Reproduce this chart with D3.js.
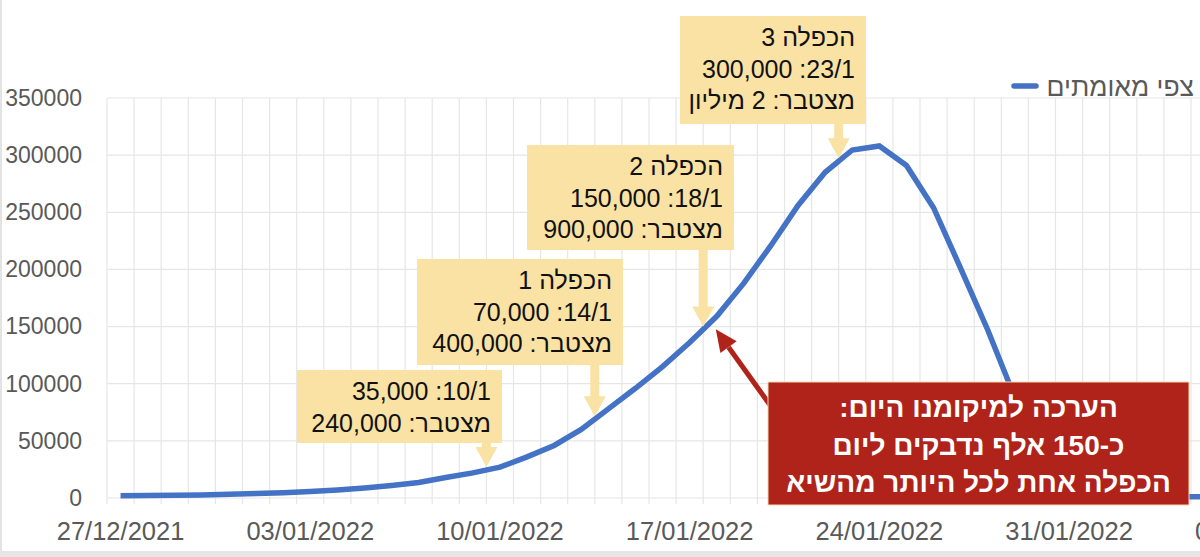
<!DOCTYPE html>
<html>
<head>
<meta charset="utf-8">
<script src="https://cdn.jsdelivr.net/npm/d3@7"></script>
<style>
	body { margin: 0; background: #fff; }
	svg { display: block; font-family: "Liberation Sans", Arial, "DejaVu Sans", sans-serif; }
</style>
</head>
<body>
<svg id="chart" width="1200" height="557"></svg>
<script>
// data
var firstDay = new Date(2021, 11, 27);
var lastDay = new Date(2022, 1, 8); // exclusive
var values = [2000, 2100, 2400, 2600, 3200, 3900, 4600, 5700, 7000, 8800,
	11000, 13600, 18000, 22000, 27000, 36000, 46000, 60000, 78000, 96000,
	115000, 136000, 159000, 188000, 221000, 256000, 285000, 304500, 308000, 291000,
	254000, 201000, 147000, 88000, 38000, 11000, 3000, 2000, 1500, 1200, 1000];
var yTicks = [0, 50000, 100000, 150000, 200000, 250000, 300000, 350000];
var seriesName = "צפי מאומתים";

// yellow callouts
var calloutDates = [new Date(2022, 0, 10), new Date(2022, 0, 14), new Date(2022, 0, 18), new Date(2022, 0, 23)];
var calloutLines = [
	["10/1: 35,000", "מצטבר: 240,000"],
	["הכפלה 1", "14/1: 70,000", "מצטבר: 400,000"],
	["הכפלה 2", "18/1: 150,000", "מצטבר: 900,000"],
	["הכפלה 3", "23/1: 300,000", "מצטבר: 2 מיליון"]
];
// red note
var noteDate = new Date(2022, 0, 18);
var noteLines = ["הערכה למיקומנו היום:", "כ-150 אלף נדבקים ליום", "הכפלה אחת לכל היותר מהשיא"];

var svg = d3.select("#chart");
var fmt = d3.timeFormat("%d/%m/%Y");

var days = d3.timeDay.range(firstDay, lastDay);
var dayW = 27.1;
var plotLeft = 107, plotTop = 98, plotBottom = 498;

var x = d3.scaleBand()
	.domain(days.map(fmt))
	.range([plotLeft, plotLeft + days.length * dayW])
	.paddingInner(0).paddingOuter(0);
var y = d3.scaleLinear().domain([0, 350000]).range([plotBottom, plotTop]);

function cx(d){ return x(fmt(d)) + x.bandwidth() / 2; }
function dayIndex(d){ return days.findIndex(function(e){ return +e == +d; }); }

var gray = "#595959";
var grid = "#e6e6e6";

// frame bits of the screenshot
svg.append("rect").attr("x", 0).attr("y", 551).attr("width", 1200).attr("height", 6).attr("fill", "#e6e6e6");
svg.append("rect").attr("x", 0).attr("y", 0).attr("width", 2).attr("height", 551).attr("fill", "#e3e3e3");

// horizontal grid
svg.selectAll(".hgrid").data(yTicks).enter()
	.append("line")
	.attr("x1", plotLeft).attr("x2", 1200)
	.attr("y1", function(d){ return y(d); })
	.attr("y2", function(d){ return y(d); })
	.attr("stroke", grid).attr("stroke-width", 1.2);

// vertical grid (one per day, slightly below the 0 line)
svg.selectAll(".vgrid").data(days).enter()
	.append("line")
	.attr("x1", function(d){ return x(fmt(d)); })
	.attr("x2", function(d){ return x(fmt(d)); })
	.attr("y1", plotTop).attr("y2", plotBottom + 6)
	.attr("stroke", grid).attr("stroke-width", 1.2);

// y axis
var yAxis = d3.axisLeft(y).tickValues(yTicks).tickFormat(d3.format("d")).tickSize(0).tickPadding(0);
var gy = svg.append("g").attr("transform", "translate(82,0)").call(yAxis);
gy.select(".domain").remove();
gy.selectAll("text").attr("fill", gray).style("font-size", "23px").style("font-family", "\"Liberation Sans\", Arial, sans-serif");

// x axis, every 7th day
var weekly = days.filter(function(d, i){ return i % 7 == 0; }).map(fmt);
var xAxis = d3.axisBottom(x).tickValues(weekly).tickSize(0).tickPadding(0);
var gx = svg.append("g").attr("transform", "translate(0,522)").call(xAxis);
gx.select(".domain").remove();
gx.selectAll("text").attr("fill", gray).attr("dy", "0.72em").style("font-size", "25.5px").style("font-family", "\"Liberation Sans\", Arial, sans-serif");

// the series line
var pts = values.map(function(v, i){ return {d: days[i], v: v}; });
var line = d3.line()
	.x(function(p){ return cx(p.d); })
	.y(function(p){ return y(p.v); });
svg.append("path").datum(pts)
	.attr("d", line)
	.attr("fill", "none")
	.attr("stroke", "#4472C4")
	.attr("stroke-width", 5.5)
	.attr("stroke-linejoin", "miter");

// legend
svg.append("line").attr("x1", 1014).attr("x2", 1036).attr("y1", 86).attr("y2", 86)
	.attr("stroke", "#4472C4").attr("stroke-width", 5.5).attr("stroke-linecap", "round");
svg.append("text").attr("x", 1194).attr("y", 96)
	.attr("direction", "rtl").attr("text-anchor", "start")
	.attr("fill", gray).style("font-size", "26.5px")
	.text(seriesName);

// curve height at the left edge of a day cell
function curveYAt(d){
	var i = dayIndex(d);
	return (y(values[i - 1]) + y(values[i])) / 2;
}

// callout boxes: [x0, y0, x1, y1]
var boxes = [[297, 370, 502, 443], [417, 259, 623, 365], [527, 145, 734, 250], [680, 16, 866, 124]];
var yellow = "#F9E2A3";

calloutDates.forEach(function(d, k){
	var b = boxes[k];
	var ax = x(fmt(d));
	var tip = curveYAt(d) - 3;
	var headL = 20, headW = 11, shaftW = 4.5;
	var p = d3.path();
	p.moveTo(ax - shaftW, b[3] - 1);
	p.lineTo(ax + shaftW, b[3] - 1);
	p.lineTo(ax + shaftW, tip - headL);
	p.lineTo(ax + headW, tip - headL);
	p.lineTo(ax, tip);
	p.lineTo(ax - headW, tip - headL);
	p.lineTo(ax - shaftW, tip - headL);
	p.closePath();
	svg.append("path").attr("d", p.toString()).attr("fill", yellow);

	svg.append("rect").attr("x", b[0]).attr("y", b[1])
		.attr("width", b[2] - b[0]).attr("height", b[3] - b[1])
		.attr("fill", yellow);

	svg.selectAll(".c" + k).data(calloutLines[k]).enter()
		.append("text")
		.attr("x", b[2] - 11)
		.attr("y", function(t, i){ return b[1] + 30 + i * 31.5; })
		.attr("direction", "rtl").attr("text-anchor", "start")
		.attr("fill", "#111").style("font-size", "25px")
		.text(function(t){ return t; });
});

// red note with arrow
var red = "#B0231A";
var nb = [768, 382, 1189, 505];
var tipX = cx(noteDate) - 1, tipY = y(values[dayIndex(noteDate)]) + 13;
var sx = 775, sy = 412;
var ang = Math.atan2(tipY - sy, tipX - sx);
var hl = 22, hw = 10;
var bx = tipX - hl * Math.cos(ang), by = tipY - hl * Math.sin(ang);
svg.append("line").attr("x1", sx).attr("y1", sy).attr("x2", bx).attr("y2", by)
	.attr("stroke", red).attr("stroke-width", 5);
svg.append("path")
	.attr("d", "M" + tipX + "," + tipY +
		"L" + (bx + hw * Math.sin(ang)) + "," + (by - hw * Math.cos(ang)) +
		"L" + (bx - hw * Math.sin(ang)) + "," + (by + hw * Math.cos(ang)) + "Z")
	.attr("fill", red);

svg.append("rect").attr("x", nb[0]).attr("y", nb[1])
	.attr("width", nb[2] - nb[0]).attr("height", nb[3] - nb[1])
	.attr("fill", red).attr("stroke", "#F3D9B0").attr("stroke-width", 1);

svg.selectAll(".note").data(noteLines).enter()
	.append("text")
	.attr("x", (nb[0] + nb[2]) / 2)
	.attr("y", function(t, i){ return 417 + i * 37.5; })
	.attr("direction", "rtl").attr("text-anchor", "middle")
	.attr("fill", "#fff").style("font-size", "28px").style("font-weight", "bold")
	.text(function(t){ return t; });
</script>
</body>
</html>
